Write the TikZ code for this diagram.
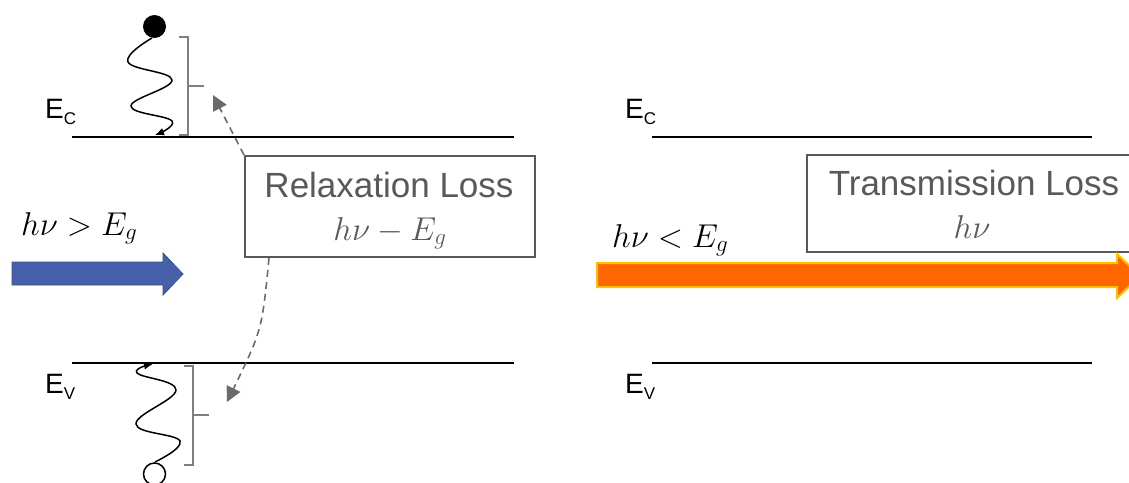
\RequirePackage{fix-cm}
\documentclass[tikz,border=0pt]{standalone}
\usepackage{fontspec}
\setmainfont{Liberation Sans}
\usepackage{xcolor}
\usepackage{tikz}
\usetikzlibrary{calc, arrows.meta, positioning}

\definecolor{lossgray}{HTML}{595959}
\definecolor{bracegray}{HTML}{7F7F7F}
\definecolor{dashgray}{HTML}{6B6B6B}
\definecolor{photonblue}{HTML}{4661AA}
\definecolor{photonblueline}{HTML}{34508F}
\definecolor{photonorange}{HTML}{FF6600}
\definecolor{photonorangeline}{HTML}{FFC000}

\tikzset{
    band/.style={black, line width=1.5pt},
    level/.style={anchor=base west, inner sep=0pt, font=\fontsize{28}{28}\selectfont},
    lossbox/.style={draw=lossgray, line width=2pt, inner sep=0pt},
    losstext/.style={anchor=base, inner sep=0pt, text=lossgray, font=\fontsize{35}{35}\selectfont},
    lossmath/.style={anchor=base, inner sep=0pt, text=lossgray, font=\fontsize{33}{33}\selectfont},
    photontext/.style={anchor=base west, inner sep=0pt, font=\fontsize{33}{33}\selectfont},
    bracket/.style={bracegray, line width=1.5pt},
    carrier/.style={black, line width=1.5pt},
    wiggle/.style={black, line width=1.5pt, -{Latex[length=9pt, width=8pt]}},
    lossarrow/.style={dashgray, line width=1.6pt, dash pattern=on 7pt off 5pt,
        -{Triangle[length=15pt, width=15pt]}}
}

\newcommand{\lvl}[2]{E\raisebox{-6pt}{\fontsize{17}{17}\selectfont #2}}

\begin{document}
\begin{tikzpicture}[x=1pt, y=-1pt]
    \useasboundingbox (0,0) rectangle (1129,482);

    % 1. Các mức năng lượng E_C, E_V
    \draw[band] (72,137) -- (514,137);
    \draw[band] (72,363) -- (514,363);
    \draw[band] (652,137) -- (1092,137);
    \draw[band] (652,363) -- (1092,363);
    \node[level] (ecl) at (45,118) {\lvl{E}{C}};
    \node[level] (evl) at (45,393) {\lvl{E}{V}};
    \node[level] (ecr) at (625,118) {\lvl{E}{C}};
    \node[level] (evr) at (625,393) {\lvl{E}{V}};

    % 2. Hạt tải: electron (tròn đen) và lỗ trống (tròn trắng)
    \fill[carrier] (154.5,26.5) circle (11.5);
    \draw[carrier] (154.5,474) circle (11);

    % 3. Đường lượn sóng rơi về mép vùng
    \draw[wiggle] plot[smooth, tension=0.7] coordinates
        {(152,38) (128,62) (172,80) (131,106) (172,121) (155,135)};
    \draw[wiggle] plot[smooth, tension=0.7] coordinates
        {(155,462) (180,441) (136,424) (176,390) (137,373) (153,364)};

    % 4. Dấu ngoặc
    \draw[bracket] (179,37) -- (188,37) -- (188,135) -- (179,135);
    \draw[bracket] (188,86) -- (204,86);
    \draw[bracket] (184,366) -- (193,366) -- (193,465) -- (184,465);
    \draw[bracket] (193,415) -- (209,415);

    % 5. Hộp Relaxation Loss
    \node[lossbox, minimum width=290pt, minimum height=101pt] (rbox) at (390,206.5) {};
    \node[losstext] (rtitle) at (389,197) {Relaxation Loss};
    \node[lossmath] (rmath) at (390,240) {$h\nu - E_g$};
    \coordinate (ctip) at (213,95);
    \coordinate (vtip) at (227,402);
    \draw[lossarrow] (rbox.north west) -- (ctip);
    \draw[lossarrow] ([xshift=25pt]rbox.south west) .. controls (262,330) .. (vtip);

    % 6. Photon hv > Eg (mũi tên xanh)
    \node[photontext] (hvgt) at (21,235) {$h\nu > E_g$};
    \filldraw[fill=photonblue, draw=photonblueline, line width=0.8pt]
        (12,262) -- (163,262) -- (163,253) -- (183,274) -- (163,295) -- (163,285) -- (12,285) -- cycle;

    % 7. Hộp Transmission Loss và photon hv < Eg (mũi tên cam)
    \node[lossbox, minimum width=333pt, minimum height=97pt] (tbox) at (973.5,203.5) {};
    \node[losstext] (ttitle) at (974,195) {Transmission Loss};
    \node[lossmath] (tmath) at (972,238) {$h\nu$};
    \node[photontext] (hvlt) at (612,247) {$h\nu < E_g$};
    \filldraw[fill=photonorange, draw=photonorangeline, line width=2pt]
        (597,263) -- (1117,263) -- (1117,254) -- (1140,276) -- (1117,298) -- (1117,287) -- (597,287) -- cycle;

\end{tikzpicture}
\end{document}
